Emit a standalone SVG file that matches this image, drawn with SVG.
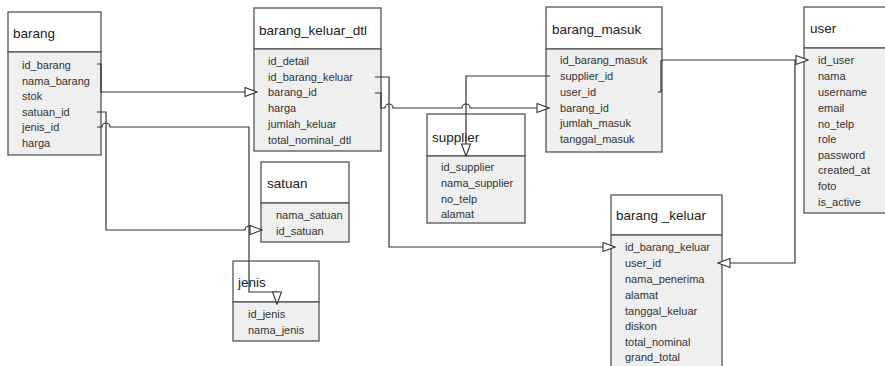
<svg xmlns="http://www.w3.org/2000/svg" width="885" height="366" viewBox="0 0 885 366">
<style>
.hd{fill:#ffffff;stroke:#555;stroke-width:1.3}
.bd{fill:#efefef;stroke:#555;stroke-width:1.3}
.t{font-family:"Liberation Sans",Arial,sans-serif;font-size:13.5px;fill:#222}
.f{font-family:"Liberation Sans",Arial,sans-serif;font-size:11px;fill:#333}
.c{fill:none;stroke:#333;stroke-width:1.2}
</style>
<defs>
<marker id="ar" markerUnits="userSpaceOnUse" markerWidth="14" markerHeight="11" refX="12" refY="4.5" orient="auto" viewBox="-1 -1 14 11">
<path d="M0,0 L12,4.5 L0,9 Z" fill="#fff" stroke="#333" stroke-width="1.1"/>
</marker>
</defs>
<rect width="885" height="366" fill="#fff"/>

<g id="barang">
<rect class="hd" x="8" y="12" width="93" height="40"/>
<rect class="bd" x="8" y="52" width="93" height="103"/>
<text class="t" x="13" y="38">barang</text>
<text class="f" x="22" y="69">id_barang</text>
<text class="f" x="22" y="85">nama_barang</text>
<text class="f" x="22" y="100">stok</text>
<text class="f" x="22" y="116">satuan_id</text>
<text class="f" x="22" y="131">jenis_id</text>
<text class="f" x="22" y="147">harga</text>
</g>

<g id="barang_keluar_dtl">
<rect class="hd" x="254" y="8" width="127" height="41"/>
<rect class="bd" x="254" y="49" width="127" height="102"/>
<text class="t" x="259" y="35">barang_keluar_dtl</text>
<text class="f" x="268" y="65">id_detail</text>
<text class="f" x="268" y="81">id_barang_keluar</text>
<text class="f" x="268" y="96">barang_id</text>
<text class="f" x="268" y="112">harga</text>
<text class="f" x="268" y="128">jumlah_keluar</text>
<text class="f" x="268" y="144">total_nominal_dtl</text>
</g>

<g id="satuan">
<rect class="hd" x="261" y="162" width="88" height="41"/>
<rect class="bd" x="261" y="203" width="88" height="39"/>
<text class="t" x="267" y="188">satuan</text>
<text class="f" x="276" y="219">nama_satuan</text>
<text class="f" x="276" y="235">id_satuan</text>
</g>

<g id="jenis">
<rect class="hd" x="233" y="261" width="86" height="41"/>
<rect class="bd" x="233" y="302" width="86" height="39"/>
<text class="t" x="238" y="287">jenis</text>
<text class="f" x="248" y="318">id_jenis</text>
<text class="f" x="248" y="334">nama_jenis</text>
</g>

<g id="barang_masuk">
<rect class="hd" x="546" y="7" width="116" height="42"/>
<rect class="bd" x="546" y="49" width="116" height="103"/>
<text class="t" x="552" y="34">barang_masuk</text>
<text class="f" x="560" y="64">id_barang_masuk</text>
<text class="f" x="560" y="80">supplier_id</text>
<text class="f" x="560" y="96">user_id</text>
<text class="f" x="560" y="112">barang_id</text>
<text class="f" x="560" y="127">jumlah_masuk</text>
<text class="f" x="560" y="143">tanggal_masuk</text>
</g>

<g id="supplier">
<rect class="hd" x="427" y="114" width="98" height="42"/>
<rect class="bd" x="427" y="156" width="98" height="67"/>
<text class="t" x="432" y="142">supplier</text>
<text class="f" x="441" y="171">id_supplier</text>
<text class="f" x="441" y="187">nama_supplier</text>
<text class="f" x="441" y="203">no_telp</text>
<text class="f" x="441" y="218">alamat</text>
</g>

<g id="user">
<rect class="hd" x="804" y="7" width="90" height="41"/>
<rect class="bd" x="804" y="48" width="90" height="165"/>
<text class="t" x="810" y="33">user</text>
<text class="f" x="818" y="64">id_user</text>
<text class="f" x="818" y="80">nama</text>
<text class="f" x="818" y="96">username</text>
<text class="f" x="818" y="112">email</text>
<text class="f" x="818" y="128">no_telp</text>
<text class="f" x="818" y="143">role</text>
<text class="f" x="818" y="159">password</text>
<text class="f" x="818" y="174">created_at</text>
<text class="f" x="818" y="190">foto</text>
<text class="f" x="818" y="206">is_active</text>
</g>

<g id="barang_keluar">
<rect class="hd" x="611" y="195" width="111" height="40"/>
<rect class="bd" x="611" y="235" width="111" height="140"/>
<text class="t" x="616" y="220">barang _keluar</text>
<text class="f" x="625" y="251">id_barang_keluar</text>
<text class="f" x="625" y="267">user_id</text>
<text class="f" x="625" y="283">nama_penerima</text>
<text class="f" x="625" y="299">alamat</text>
<text class="f" x="625" y="315">tanggal_keluar</text>
<text class="f" x="625" y="330">diskon</text>
<text class="f" x="625" y="346">total_nominal</text>
<text class="f" x="625" y="361">grand_total</text>
</g>

<g id="connectors">
<path class="c" d="M97,64 H101 V92 H257" marker-end="url(#ar)"/>
<path class="c" d="M97,112 H106 V230 H245 a4,4 0 0 1 8,0 H262" marker-end="url(#ar)"/>
<path class="c" d="M97,127 H102 a4,4 0 0 1 8,0 H249 V292 H277 V304" marker-end="url(#ar)"/>
<path class="c" d="M375,77 H389 V247 H615" marker-end="url(#ar)"/>
<path class="c" d="M375,93 H381 V108 H385 a4,4 0 0 1 8,0 H462 a4,4 0 0 1 8,0 H549" marker-end="url(#ar)"/>
<path class="c" d="M550,76 H466 V156" marker-end="url(#ar)"/>
<path class="c" d="M662,60 H808" marker-end="url(#ar)"/>
<path class="c" d="M658,92 H661 V60"/>
<path class="c" d="M795,60 V263 H718" marker-end="url(#ar)"/>
</g>
</svg>
